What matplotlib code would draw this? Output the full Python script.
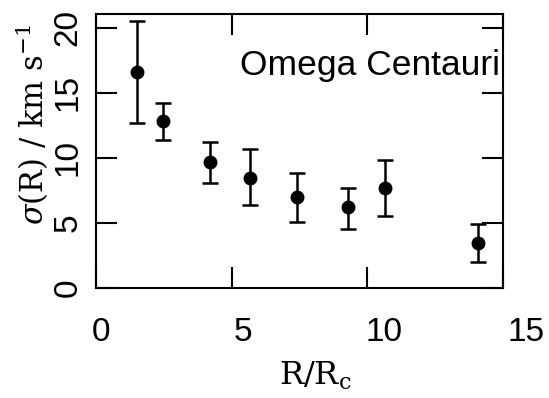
import numpy as np
import matplotlib
matplotlib.use("Agg")
import matplotlib.pyplot as plt

# Daten
r_rc = [1.52, 2.47, 4.2, 5.67, 7.4, 9.28, 10.64, 14.07]
sigma = [16.6, 12.8, 9.65, 8.45, 7.0, 6.2, 7.65, 3.45]
err_hi = [20.55, 14.2, 11.25, 10.7, 8.85, 7.7, 9.8, 4.95]
err_lo = [12.7, 11.4, 8.1, 6.35, 5.05, 4.55, 5.5, 2.0]

xticks = [0, 5, 10, 15]
yticks = [0, 5, 10, 15, 20]

plt.rcParams["font.family"] = ["Liberation Sans", "DejaVu Sans"]
plt.rcParams["mathtext.fontset"] = "dejavuserif"

W, H = 549, 398
fig = plt.figure(figsize=(W / 100, H / 100), dpi=100)
ax = fig.add_axes([96 / W, 1 - 288 / H, (503 - 96) / W, (288 - 14) / H])

sigma = np.array(sigma)
yerr = [sigma - np.array(err_lo), np.array(err_hi) - sigma]
ax.errorbar(r_rc, sigma, yerr=yerr, fmt="o", color="black", ms=9,
            elinewidth=1.8, capsize=5.5, capthick=1.8)

ax.set_xlim(0, 15)
ax.set_ylim(0, 21.05)
ax.set_xticks(xticks)
ax.set_yticks(yticks)
ax.tick_params(direction="in", length=15, width=1.5, labelsize=24,
               top=True, right=True)
ax.tick_params(axis="x", labelbottom=False)
ax.tick_params(axis="y", pad=9)
for lab in ax.get_yticklabels():
    lab.set_rotation(90)
    lab.set_va("center")
for s in ax.spines.values():
    s.set_linewidth(1.5)

# x-Beschriftung im Original etwas breiter als der Plot -> eigene Achse
lab_ax = fig.add_axes([101 / W, 1 - 288 / H, 425 / W, 0.01])
lab_ax.set_xlim(0, 15)
lab_ax.set_xticks(xticks)
lab_ax.tick_params(axis="x", length=0, labelsize=24, pad=21)
lab_ax.set_yticks([])
lab_ax.patch.set_visible(False)
for s in lab_ax.spines.values():
    s.set_visible(False)

ax.set_ylabel(r"$\sigma$(R) / km s$^{-1}$", family="DejaVu Serif", fontsize=22)
ax.yaxis.label.set_va("center")
ax.yaxis.set_label_coords(32 / W, 1 - 125 / H, transform=fig.transFigure)
fig.text(315 / W, 1 - 376 / H, r"R/R$_\mathrm{c}$", family="DejaVu Serif",
         fontsize=23, ha="center", va="center")

ax.text(500 / W, 1 - 65 / H, "Omega Centauri", transform=fig.transFigure,
        ha="right", va="center", fontsize=25.5)

fig.savefig("out.png", dpi=100)
